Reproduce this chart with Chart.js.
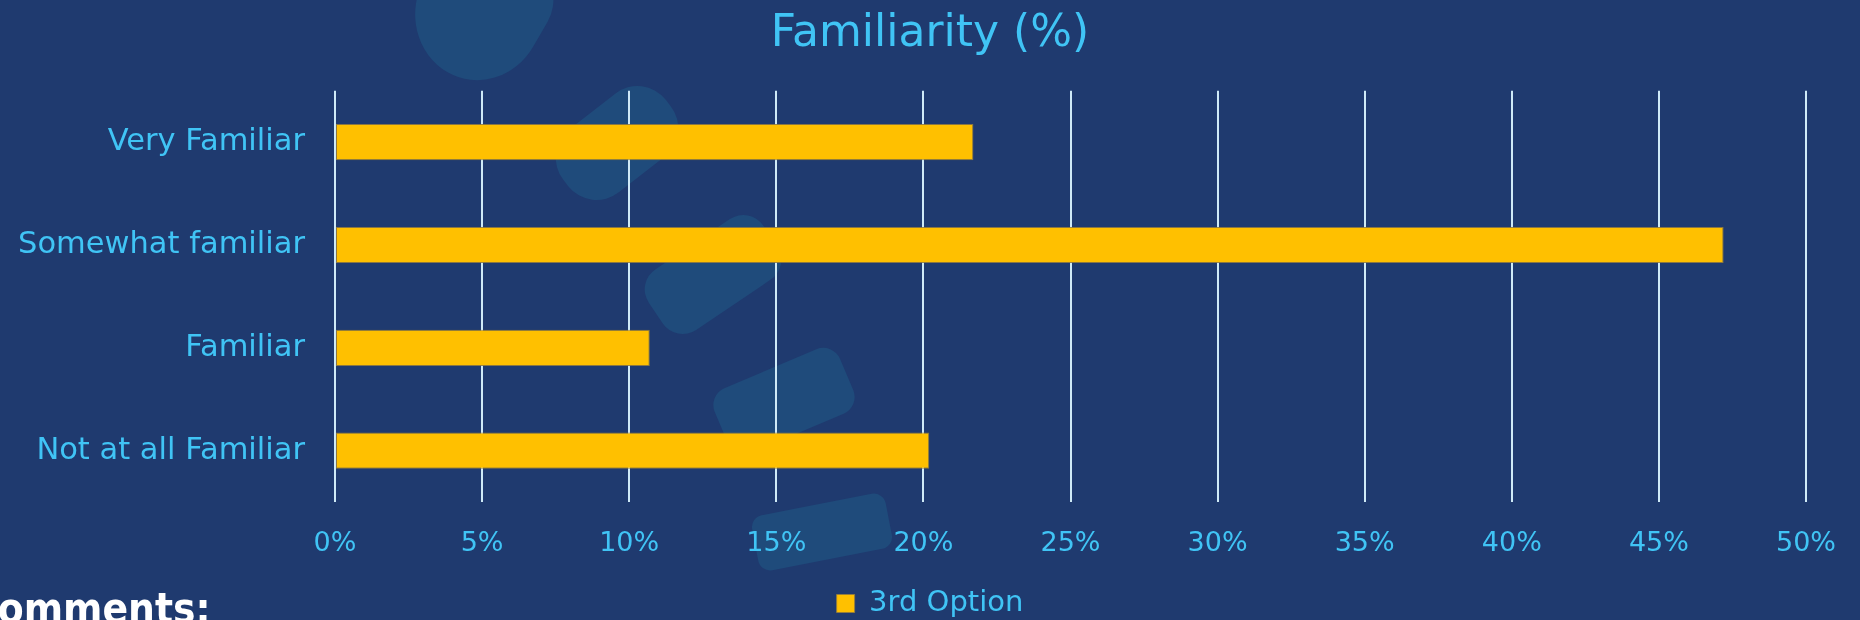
<!DOCTYPE html>
<html>
<head>
<meta charset="utf-8">
<script src="https://cdn.jsdelivr.net/npm/chart.js@4.4.1/dist/chart.umd.min.js"></script>
<style>
  html, body { margin: 0; padding: 0; }
  body { width: 1860px; height: 620px; background: #1F3A6F; position: relative; overflow: hidden; }
  .blob { position: absolute; background: #1F4B7B; }
  #wrap { position: absolute; left: 0; top: 0; width: 1860px; height: 620px; }
  #comments { position: absolute; left: -30px; top: 588px; font-family: 'DejaVu Sans Condensed', 'DejaVu Sans', sans-serif; font-weight: bold; font-size: 42px; line-height: 42px; color: #FFFFFF; white-space: nowrap; }
</style>
</head>
<body>
<div class="blob" style="left:415px; top:-55px; width:128px; height:135px; border-radius:40% 35% 55% 60%; transform:rotate(30deg);"></div>
<div class="blob" style="left:552px; top:103px; width:130px; height:80px; border-radius:36px; transform:rotate(-38deg);"></div>
<div class="blob" style="left:644px; top:238px; width:138px; height:73px; border-radius:24px; transform:rotate(-34deg);"></div>
<div class="blob" style="left:716px; top:366px; width:136px; height:70px; border-radius:18px; transform:rotate(-23deg);"></div>
<div class="blob" style="left:754px; top:504px; width:136px; height:56px; border-radius:12px; transform:rotate(-11deg);"></div>
<div id="wrap"><canvas id="c" width="1860" height="620"></canvas></div>
<div id="comments">Comments:</div>
<script>
const categories = ["Very Familiar", "Somewhat familiar", "Familiar", "Not at all Familiar"];
const seriesName = "3rd Option";
const values = [21.7, 47.2, 10.7, 20.2];
const xTicks = [0, 5, 10, 15, 20, 25, 30, 35, 40, 45, 50];
const titleText = "Familiarity (%)";

const FONT = "'DejaVu Sans', sans-serif";
const TXT = '#40C4F5';

new Chart(document.getElementById('c'), {
  type: 'bar',
  data: {
    labels: categories,
    datasets: [{
      label: seriesName,
      data: values,
      backgroundColor: '#FFC000',
      borderColor: 'rgba(150,125,60,0.9)',
      borderWidth: 1,
      borderSkipped: false,
      categoryPercentage: 1.0,
      barPercentage: 0.352
    }]
  },
  options: {
    indexAxis: 'y',
    responsive: false,
    animation: false,
    devicePixelRatio: 1,
    layout: { padding: { left: 0, right: 0, top: 4, bottom: -8 } },
    plugins: {
      title: {
        display: true,
        text: titleText,
        color: TXT,
        font: { family: FONT, size: 44, weight: 'normal' },
        padding: { top: 4, bottom: 30 }
      },
      legend: {
        display: true,
        position: 'bottom',
        labels: {
          color: TXT,
          font: { family: FONT, size: 29, weight: 'normal' },
          boxWidth: 18,
          boxHeight: 18,
          padding: 0
        }
      },
      tooltip: { enabled: false }
    },
    scales: {
      x: {
        min: 0,
        max: 50,
        afterBuildTicks: (s) => { s.ticks = xTicks.map(v => ({ value: v })); },
        afterFit: (s) => { s.height = 87; s.paddingRight = 54; },
        ticks: {
          color: TXT,
          font: { family: FONT, size: 27, weight: 'normal' },
          padding: 26,
          callback: (v) => v + '%'
        },
        grid: { display: true, color: '#CFEAF7', lineWidth: 2, drawTicks: false },
        border: { display: false }
      },
      y: {
        afterFit: (s) => { s.width = 335; },
        ticks: {
          color: TXT,
          font: { family: FONT, size: 30.5, weight: 'normal' },
          padding: 30
        },
        grid: { display: false, drawTicks: false },
        border: { display: false }
      }
    }
  }
});
</script>
</body>
</html>
